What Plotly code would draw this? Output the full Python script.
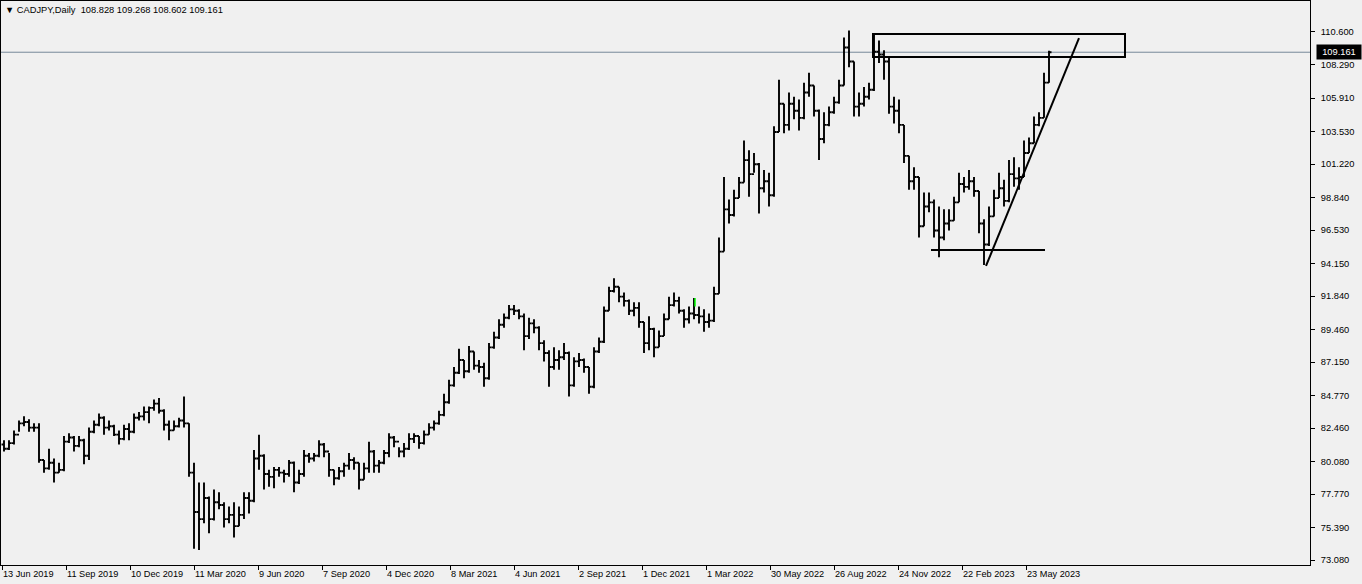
import plotly.graph_objects as go

# ---------------- data (weekly summary of CADJPY daily bars) ----------------
w_high = [81.6, 81.6, 82.3, 83.0, 83.3, 83.1, 82.8, 82.8, 80.2, 81.0,
          80.3, 80.0, 81.9, 82.1, 81.9, 81.9, 81.7, 82.5, 83.0, 83.5,
          83.3, 83.0, 82.7, 82.3, 82.7, 82.8, 83.5, 83.6, 84.0, 84.0,
          84.5, 84.6, 83.8, 83.0, 83.0, 83.2, 84.7, 82.8, 80.0, 78.6,
          78.6, 77.6, 78.1, 77.9, 77.2, 76.9, 77.2, 76.9, 77.9, 77.9,
          80.9, 82.0, 80.6, 79.5, 79.7, 79.7, 79.5, 80.2, 80.1, 79.5,
          80.9, 80.7, 80.7, 81.6, 81.4, 80.7, 79.5, 79.7, 80.0, 80.7,
          80.4, 80.0, 80.0, 81.5, 80.9, 80.2, 80.9, 82.1, 81.9, 81.1,
          81.4, 82.1, 82.1, 81.9, 82.3, 82.8, 83.0, 83.7, 84.9, 85.9,
          86.8, 88.1, 87.3, 88.3, 87.9, 87.3, 87.1, 88.5, 89.3, 90.2,
          90.6, 91.2, 91.2, 90.9, 90.6, 90.3, 90.2, 89.7, 88.7, 88.0,
          88.2, 88.0, 88.5, 87.9, 87.5, 87.8, 87.4, 86.8, 88.2, 88.9,
          91.1, 92.5, 93.1, 92.5, 92.1, 91.6, 91.4, 91.4, 90.0, 90.4,
          89.6, 89.4, 90.6, 91.8, 92.1, 91.8, 90.9, 91.1, 91.7, 91.1,
          90.9, 90.6, 92.5, 96.0, 100.3, 98.7, 99.4, 100.3, 102.9, 102.2,
          102.0, 101.3, 100.8, 100.6, 103.9, 107.2, 105.5, 106.3, 106.0, 105.8,
          107.0, 107.7, 106.8, 105.1, 104.9, 105.3, 106.0, 107.2, 110.2, 110.7,
          108.5, 106.3, 106.7, 107.0, 110.5, 110.0, 109.3, 108.8, 106.0, 105.8,
          104.0, 101.8, 101.0, 100.3, 99.2, 99.2, 98.7, 98.2, 98.0, 98.0,
          98.9, 100.6, 100.3, 100.8, 100.3, 99.3, 97.3, 98.2, 99.4, 100.6,
          100.1, 101.5, 101.7, 101.0, 102.9, 103.1, 104.6, 104.9, 107.7, 109.268]

w_low = [80.8, 80.9, 81.3, 82.2, 82.6, 82.2, 82.2, 80.0, 79.3, 79.5,
         78.6, 79.3, 79.4, 81.4, 80.8, 81.1, 79.9, 80.2, 82.1, 82.6,
         82.0, 82.3, 81.9, 81.3, 81.6, 81.6, 82.1, 83.0, 83.0, 82.8,
         83.7, 83.5, 82.3, 81.6, 82.3, 82.5, 82.5, 79.0, 73.9, 73.8,
         75.7, 75.0, 75.9, 76.7, 75.4, 75.7, 74.7, 75.5, 76.0, 76.4,
         77.2, 79.5, 78.1, 78.3, 78.2, 79.0, 78.6, 79.0, 77.9, 78.5,
         79.0, 80.0, 80.1, 80.4, 80.4, 79.0, 78.4, 78.8, 79.0, 79.5,
         79.5, 78.1, 78.8, 79.3, 79.3, 79.3, 79.9, 80.4, 81.1, 80.4,
         80.4, 80.9, 81.4, 81.0, 81.3, 82.0, 82.3, 82.7, 83.3, 84.2,
         85.4, 86.3, 86.0, 86.4, 86.6, 86.4, 85.4, 85.9, 88.1, 88.8,
         89.6, 90.2, 90.5, 90.2, 88.0, 88.8, 89.2, 88.0, 87.2, 85.4,
         86.6, 86.6, 87.3, 84.7, 85.4, 86.8, 86.4, 84.9, 85.3, 87.8,
         88.5, 90.8, 92.1, 91.4, 91.1, 90.5, 90.4, 89.6, 87.8, 88.0,
         87.5, 88.2, 89.0, 90.2, 91.1, 90.6, 89.6, 89.9, 90.2, 89.9,
         89.3, 89.6, 90.0, 92.0, 95.0, 97.0, 97.5, 98.8, 99.9, 98.9,
         100.6, 97.7, 99.2, 98.2, 98.9, 103.5, 103.4, 103.6, 104.4, 103.6,
         104.4, 106.0, 104.6, 101.5, 102.7, 103.9, 104.8, 105.5, 106.8, 108.1,
         104.6, 104.6, 105.3, 105.8, 106.4, 108.4, 107.2, 104.8, 104.1, 103.4,
         101.3, 99.4, 99.4, 96.0, 96.8, 97.8, 96.0, 94.6, 95.8, 96.5,
         97.2, 98.5, 99.2, 99.4, 98.9, 96.3, 94.05, 95.4, 97.5, 98.8,
         98.2, 98.5, 99.6, 99.4, 100.3, 102.0, 102.7, 103.9, 104.5, 107.0]

w_close = [81.0, 81.4, 82.0, 82.8, 82.9, 82.5, 82.5, 80.2, 79.6, 80.0,
           79.3, 79.5, 81.5, 81.8, 81.2, 81.6, 80.5, 82.2, 82.7, 83.2,
           82.5, 82.6, 82.0, 81.7, 82.4, 82.2, 83.2, 83.3, 83.6, 83.9,
           84.2, 83.7, 82.7, 82.3, 82.6, 83.0, 82.8, 79.3, 76.5, 76.0,
           77.5, 76.0, 77.2, 77.0, 76.0, 76.3, 75.5, 76.3, 77.5, 77.3,
           80.3, 80.5, 79.2, 79.0, 79.5, 79.3, 79.2, 80.0, 78.6, 79.2,
           80.5, 80.3, 80.5, 81.3, 80.8, 79.5, 78.9, 79.4, 79.8, 80.2,
           80.0, 78.8, 79.6, 80.8, 79.8, 80.0, 80.7, 81.8, 81.5, 80.8,
           81.0, 81.7, 81.9, 81.4, 82.0, 82.5, 82.8, 83.4, 84.3, 85.5,
           86.4, 87.3, 86.5, 87.9, 86.9, 86.8, 86.0, 88.2, 88.9, 89.8,
           90.3, 90.9, 90.8, 90.4, 89.0, 89.9, 89.6, 88.5, 87.8, 86.8,
           87.3, 87.5, 87.8, 85.5, 87.2, 87.3, 86.8, 85.4, 87.9, 88.6,
           90.8, 92.2, 92.5, 91.8, 91.5, 90.8, 91.0, 90.0, 88.5, 89.5,
           88.2, 89.0, 90.2, 91.2, 91.5, 90.8, 90.2, 90.6, 90.5, 90.4,
           90.0, 90.1, 92.0, 95.0, 98.0, 97.6, 98.8, 99.9, 101.5, 100.5,
           101.2, 99.5, 100.0, 99.0, 103.5, 105.5, 104.0, 105.5, 105.0, 104.5,
           106.3, 106.8, 105.0, 103.0, 104.0, 104.9, 105.6, 106.8, 109.5, 108.5,
           105.3, 105.5, 106.0, 106.5, 109.2, 109.0, 108.5, 105.3, 105.0, 104.0,
           101.8, 100.0, 100.3, 96.8, 98.2, 98.5, 96.5, 96.0, 97.0, 97.2,
           98.5, 99.8, 99.6, 100.0, 99.3, 97.0, 95.5, 97.5, 98.8, 99.5,
           98.6, 100.5, 100.2, 100.3, 102.0, 102.7, 104.0, 104.5, 107.0, 109.161]

first_open = 81.3
w_open = [first_open] + w_close[:-1]

# single highlighted (green) daily bar
hl_bar_index = [693]
hl_bar_high = [91.7]
hl_bar_low = [91.1]

date_labels = ["13 Jun 2019", "11 Sep 2019", "10 Dec 2019", "11 Mar 2020", "9 Jun 2020",
               "7 Sep 2020", "4 Dec 2020", "8 Mar 2021", "4 Jun 2021", "2 Sep 2021",
               "1 Dec 2021", "1 Mar 2022", "30 May 2022", "26 Aug 2022", "24 Nov 2022",
               "22 Feb 2023", "23 May 2023"]
price_ticks = [73.080, 75.390, 77.770, 80.080, 82.460, 84.770, 87.150, 89.460, 91.840,
               94.150, 96.530, 98.840, 101.220, 103.530, 105.910, 108.290, 110.600]
last_open, last_high, last_low, last_price = 108.828, 109.268, 108.602, 109.161

# drawing objects (bar index, price)
rect_box = (871, 1123, 108.82, 110.46)
trend_line = (984, 93.98, 1077, 110.17)
support_line = (929, 1043, 95.12)

# ---------------- layout constants ----------------
BARS_PER_WEEK = 5
BARS_PER_LABEL = 64
x_week = [BARS_PER_WEEK * i + 2 for i in range(len(w_close))]

BG = "#F0F0F0"
FONT = "Liberation Sans"

fig = go.Figure()
fig.add_trace(go.Ohlc(
    x=x_week, open=w_open, high=w_high, low=w_low, close=w_close,
    increasing=dict(line=dict(color="black", width=1.9)),
    decreasing=dict(line=dict(color="black", width=1.9)),
    tickwidth=0.5, hoverinfo="skip", showlegend=False))

fig.add_trace(go.Scatter(
    x=[hl_bar_index[0], hl_bar_index[0]], y=[hl_bar_low[0], hl_bar_high[0]],
    mode="lines", line=dict(color="#00FF00", width=1.5),
    hoverinfo="skip", showlegend=False))

# current price line
fig.add_shape(type="line", xref="paper", x0=0, x1=1, y0=last_price, y1=last_price,
              line=dict(color="#778899", width=1), layer="below")

# rectangle zone
fig.add_shape(type="rect", x0=rect_box[0], x1=rect_box[1], y0=rect_box[2], y1=rect_box[3],
              line=dict(color="black", width=2), fillcolor="rgba(0,0,0,0)")
# trend line
fig.add_shape(type="line", x0=trend_line[0], y0=trend_line[1], x1=trend_line[2], y1=trend_line[3],
              line=dict(color="black", width=2))
# support line
fig.add_shape(type="line", x0=support_line[0], x1=support_line[1], y0=support_line[2], y1=support_line[2],
              line=dict(color="black", width=2))

# header
fig.add_annotation(xref="paper", yref="paper", x=0, y=1, xanchor="left", yanchor="top",
                   xshift=2, yshift=-2, showarrow=False,
                   text="\u25BC CADJPY,Daily  %.3f %.3f %.3f %.3f" % (last_open, last_high, last_low, last_price),
                   font=dict(family=FONT, size=9.3, color="black"))

# current price label on the axis
fig.add_annotation(xref="paper", x=1, y=last_price, xanchor="left", yanchor="middle",
                   xshift=6, showarrow=False, text="%.3f" % last_price,
                   bgcolor="black", font=dict(family=FONT, size=9.3, color="white"),
                   width=42, height=12, borderpad=1)

fig.update_layout(
    width=1362, height=584,
    margin=dict(l=1, r=52, t=1, b=19),
    paper_bgcolor=BG, plot_bgcolor=BG,
    font=dict(family=FONT, size=9.3, color="black"),
    xaxis=dict(range=[-1, 1308], tickvals=[BARS_PER_LABEL * i for i in range(len(date_labels))],
               ticktext=date_labels, ticks="outside", ticklen=4, tickcolor="black",
               ticklabelposition="outside right", showgrid=False, zeroline=False,
               showline=True, linecolor="black", linewidth=1, mirror=True,
               rangeslider=dict(visible=False), tickfont=dict(size=9.2)),
    yaxis=dict(side="right", range=[72.74, 112.8], tickvals=price_ticks,
               ticktext=["%.3f" % v for v in price_ticks], ticks="outside", ticklen=4,
               tickcolor="black", showgrid=False, zeroline=False, showline=True,
               linecolor="black", linewidth=1, mirror=True, tickfont=dict(size=9.3),
               ticklabelstandoff=4),
)

fig.write_html("out.html", post_script="document.body.style.margin='0';",
               config={"displayModeBar": False})
